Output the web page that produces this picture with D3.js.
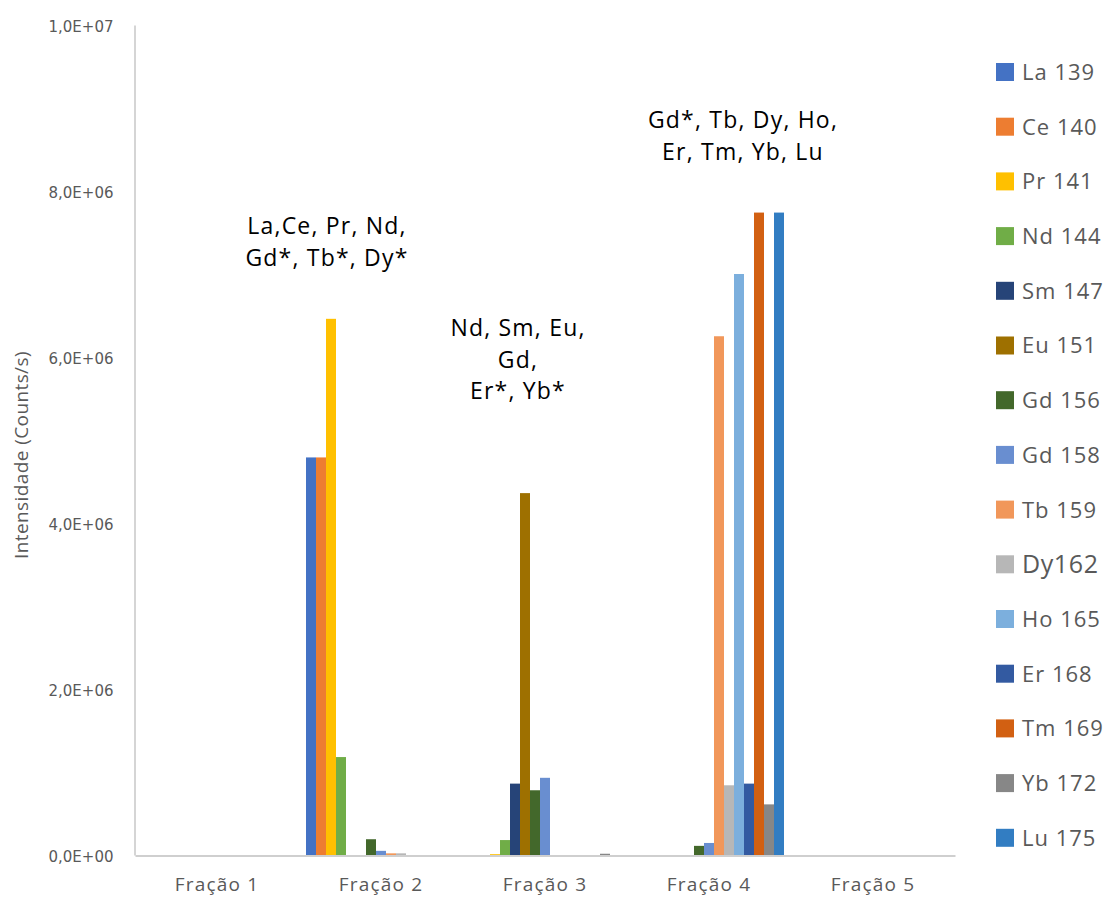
<!DOCTYPE html>
<html><head><meta charset="utf-8">
<script src="https://cdn.jsdelivr.net/npm/d3@7"></script>
<style>body{margin:0;background:#fff}svg{display:block}</style>
</head><body>
<svg id="c" width="1107" height="898"></svg>
<script>
const categories = ["Fração 1", "Fração 2", "Fração 3", "Fração 4", "Fração 5"];
const seriesNames = ["La 139","Ce 140","Pr 141","Nd 144","Sm 147","Eu 151","Gd 156","Gd 158","Tb 159","Dy162","Ho 165","Er 168","Tm 169","Yb 172","Lu 175"];
const seriesColors = ["#4472C4","#ED7D31","#FFC000","#70AD47","#264478","#9E7000","#43682B","#698ED0","#F1975A","#B7B7B7","#7CAFDD","#335AA1","#D26012","#878787","#327DC2"];
const la139 = [0, 4.79e6, 0, 0, 0];
const ce140 = [0, 4.79e6, 0, 0, 0];
const pr141 = [0, 6.46e6, 0.01e6, 0, 0];
const nd144 = [0, 1.18e6, 0.18e6, 0, 0];
const sm147 = [0, 0, 0.86e6, 0, 0];
const eu151 = [0, 0, 4.36e6, 0, 0];
const gd156 = [0, 0.19e6, 0.78e6, 0.11e6, 0];
const gd158 = [0, 0.05e6, 0.93e6, 0.145e6, 0];
const tb159 = [0, 0.02e6, 0, 6.25e6, 0];
const dy162 = [0, 0.02e6, 0, 0.84e6, 0];
const ho165 = [0, 0, 0, 7.0e6, 0];
const er168 = [0, 0, 0, 0.86e6, 0];
const tm169 = [0, 0, 0, 7.74e6, 0];
const yb172 = [0, 0, 0.015e6, 0.61e6, 0];
const lu175 = [0, 0, 0, 7.74e6, 0];
const seriesValues = [la139, ce140, pr141, nd144, sm147, eu151, gd156, gd158, tb159, dy162, ho165, er168, tm169, yb172, lu175];
const yTicks = [0, 2e6, 4e6, 6e6, 8e6, 1e7];
const annotations = [
  {cat: "Fração 2", lines: ["La,Ce, Pr, Nd,", "Gd*, Tb*, Dy*"], top: 234, dx: -54},
  {cat: "Fração 3", lines: ["Nd, Sm, Eu,", "Gd,", "Er*, Yb*"], top: 336, dx: -27},
  {cat: "Fração 4", lines: ["Gd*, Tb, Dy, Ho,", "Er, Tm, Yb, Lu"], top: 128, dx: 34}
];

const svg = d3.select("#c");
const x0 = d3.scaleBand().domain(categories).range([135, 955]);
const x1 = d3.scaleBand().domain(seriesNames).range([7, x0.bandwidth() - 7]);
const y = d3.scaleLinear().domain([0, 1e7]).range([855, 25]);

function sci(v) {
  if (v === 0) return "0,0E+00";
  const e = Math.floor(Math.log10(v));
  const m = v / Math.pow(10, e);
  return m.toFixed(1).replace(".", ",") + "E+" + String(e).padStart(2, "0");
}

// bars
seriesNames.forEach((s, i) => {
  svg.append("g").selectAll("rect").data(categories.map((c, j) => ({c, v: seriesValues[i][j]})))
    .join("rect")
    .attr("x", d => x0(d.c) + x1(s))
    .attr("width", x1.bandwidth())
    .attr("y", d => y(d.v))
    .attr("height", d => y(0) - y(d.v))
    .attr("fill", seriesColors[i]);
});

// y axis
const yAxis = d3.axisLeft(y).tickValues(yTicks).tickFormat(sci).tickSize(0).tickPadding(21);
const gy = svg.append("g").attr("transform", "translate(134.5,0)").call(yAxis);
gy.select(".domain").attr("stroke", "#bfbfbf").attr("stroke-width", 1.3);
gy.selectAll("text").attr("font-family", "DejaVu Sans").attr("font-size", 15).attr("fill", "#595959").attr("dy", "0.4em");

// x axis
const xAxis = d3.axisBottom(x0).tickSize(0).tickPadding(22);
const gx = svg.append("g").attr("transform", "translate(0,855.5)").call(xAxis);
gx.select(".domain").attr("stroke", "#bfbfbf").attr("stroke-width", 1.3);
gx.selectAll("text").attr("font-family", "Open Sans").attr("font-size", 19).attr("letter-spacing", 1.2).attr("fill", "#595959");

// y title
svg.append("text").attr("transform", "translate(28,455) rotate(-90)")
  .attr("text-anchor", "middle").attr("font-family", "Open Sans").attr("font-size", 19)
  .attr("letter-spacing", 0.4).attr("fill", "#595959").text("Intensidade (Counts/s)");

// annotations
annotations.forEach(a => {
  const cx = x0(a.cat) + x0.bandwidth() / 2 + a.dx;
  const t = svg.append("text").attr("text-anchor", "middle").attr("font-family", "Open Sans")
    .attr("font-size", 23).attr("letter-spacing", 1.2).attr("fill", "#000");
  a.lines.forEach((l, k) => {
    t.append("tspan").attr("x", cx).attr("y", a.top + k * 31.5).text(l);
  });
});

// legend
const lg = svg.append("g");
seriesNames.forEach((s, i) => {
  const cy = 72 + i * 54.7;
  lg.append("rect").attr("x", 996).attr("y", cy - 9).attr("width", 18).attr("height", 18).attr("fill", seriesColors[i]);
  lg.append("text").attr("x", 1022).attr("y", cy).attr("dy", "0.36em")
    .attr("font-family", "Open Sans").attr("font-size", s === "Dy162" ? 25 : 22)
    .attr("letter-spacing", s === "Dy162" ? 0.6 : 1).attr("fill", "#595959").text(s);
});
</script>
</body></html>
